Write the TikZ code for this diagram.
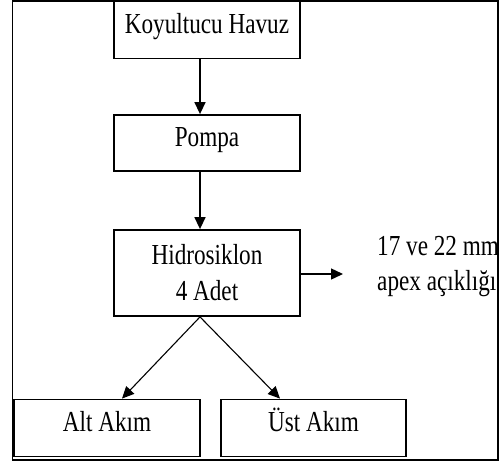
\documentclass[tikz,border=0pt]{standalone}
\usepackage{fontspec}
\setmainfont[FakeStretch=0.8]{Liberation Serif}
\usetikzlibrary{positioning, arrows.meta}

\begin{document}
\begin{tikzpicture}[x=1pt, y=-1pt,
      box/.style={rectangle, draw, line width=1.8pt, minimum width=186pt,
        minimum height=57pt, inner sep=0pt, align=center,
        font=\fontsize{29}{36}\selectfont},
      sbox/.style={box, text height=20pt, text depth=13pt},
      arr/.style={-{Triangle[length=12pt, width=11pt]}, draw, line width=1.4pt},
      darr/.style={-{Triangle[length=12pt, width=11pt]}, draw, line width=1.1pt}
    ]
    \useasboundingbox (0,0) rectangle (501,464);
    % === outer frame ===
    \draw[line width=1.8pt] (12.5,1) rectangle (498,460);
    % === main column ===
    \node[sbox] (havuz) at (207,30) {Koyultucu Havuz};
    \node[sbox, minimum height=56pt] (pompa) at (207,143) {Pompa};
    \node[box, minimum height=86pt] (hidro) at (207,273)
      {Hidrosiklon\\4 Adet};
    % === outputs ===
    \node[sbox] (alt) at (107,428) {Alt Akım};
    \node[sbox, minimum width=185pt] (ust) at (313.5,428) {Üst Akım};
    % note on the right, cut by the frame
    \begin{scope}
      \clip (300,200) rectangle (497,320);
      \node[anchor=west, align=left, inner sep=0pt,
        font=\fontsize{29}{35}\selectfont] (apex) at (377,267)
        {17 ve 22 mm\\apex açıklığı};
    \end{scope}
    \coordinate (apexend) at (343,274);
    % === connectors ===
    \draw[arr] (havuz.south -| 200,0) -- (pompa.north -| 200,0);
    \draw[arr] (pompa.south -| 200,0) -- (hidro.north -| 200,0);
    \draw[arr] (hidro.east |- 0,274) -- (apexend);
    \draw[darr] (hidro.south -| 200,0) -- (alt.north -| 122,0);
    \draw[darr] (hidro.south -| 200,0) -- (ust.north -| 280,0);
  \end{tikzpicture}
\end{document}
